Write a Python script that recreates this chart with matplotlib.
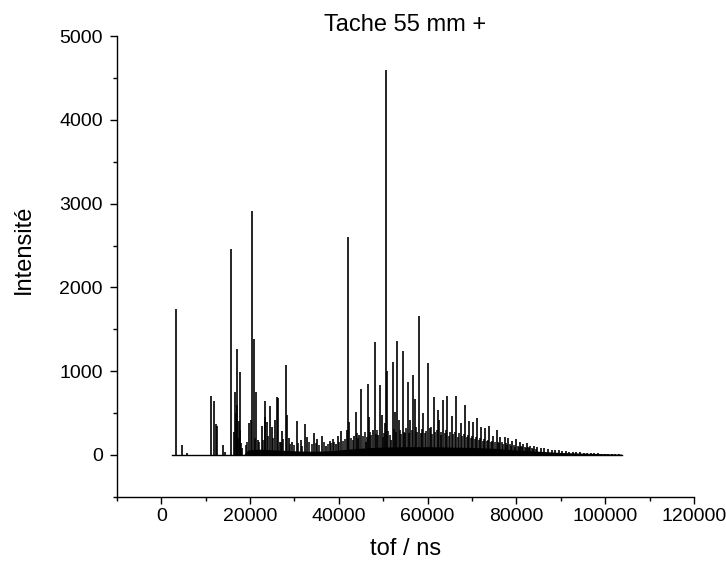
import matplotlib
matplotlib.use("Agg")
import matplotlib.pyplot as plt
from matplotlib.ticker import MultipleLocator

plt.rcParams['font.family'] = ['Liberation Sans', 'DejaVu Sans']

# Peak positions (tof, ns) and heights
peak_tof = [3290, 4640, 5760, 11170, 11850, 12300, 12530, 13950, 14330,
            15680, 16360, 16650, 16800, 16970, 17100, 17260, 17400, 17640,
            17800, 17940, 18200,
            19740, 20190, 20410, 20930, 21380, 21760, 22670, 23270, 23410,
            23860, 24470, 24850, 25660, 25980, 26200, 26650, 27170, 28010,
            28300, 28820, 29490, 30480, 31380, 32420, 32870, 34380, 35120,
            36180, 37080, 37980, 38590, 39270, 39720, 40400, 41750, 42110,
            42330, 43390, 43780, 44590, 44970, 46160, 46550, 46770, 47610,
            48060, 48800, 49250, 49640, 50310, 50670, 50900, 51800, 52110,
            52630, 53080, 53530, 54370, 54880, 55630, 56010, 56750, 57070,
            58040, 58420, 59010, 60130, 60510, 61350, 62250, 62480, 63380,
            64420, 65470, 66370, 67430, 68330, 69370, 70270, 71170, 72070,
            72910, 73880, 74780, 75540, 76350, 77350, 78160, 79060, 79890,
            80730, 81540, 82300, 83110, 83880, 84690, 85500, 86300, 87100,
            87900, 88700, 89500, 90300, 91100, 91900, 92700, 93500, 94300,
            95100, 95900, 96700, 97500, 98300, 99100, 99900, 100700, 101500,
            102300, 103100]
peak_int = [1740, 120, 20, 700, 640, 370, 345, 120, 40,
            2460, 275, 750, 500, 1270, 600, 200, 400, 990,
            300, 140, 80,
            380, 415, 2910, 1390, 750, 180, 345, 450, 640,
            395, 585, 335, 415, 690, 680, 150, 285, 1070,
            475, 200, 155, 405, 180, 370, 215, 260, 190,
            225, 110, 165, 190, 130, 225, 285, 300, 2600,
            395, 225, 510, 235, 785, 150, 845, 450, 300,
            1345, 235, 835, 475, 380, 4590, 1000, 180, 1105,
            510, 1355, 415, 1240, 260, 870, 415, 950, 665,
            1665, 260, 500, 1095, 320, 690, 535, 415, 655,
            700, 465, 700, 380, 595, 405, 390, 440, 335,
            320, 345, 225, 300, 215, 210, 200, 170, 190,
            155, 130, 140, 110, 110, 90, 85, 80, 70,
            65, 60, 55, 50, 45, 40, 38, 35, 30,
            28, 25, 22, 20, 18, 16, 14, 12, 10,
            9, 8]

# Smaller peaks sitting between the main series
minor_tof = [19000, 19300, 21000, 22100, 22900, 24100, 25200, 26900, 27500,
             29000, 29900, 30900, 31800, 33300, 33900, 34800, 35600, 36600,
             37500, 38300, 38900, 40000, 41000, 41300, 42700, 43100, 44100,
             44400, 45400, 45800, 46300, 47100, 47300, 48400, 48600, 49900,
             50100, 51100, 51500, 52400, 52900, 53800, 54100, 54600, 55200,
             55900, 56400, 57300, 57700, 58700, 59300, 59700, 60800, 61000,
             61700, 62000, 62900, 63100, 63800, 64100, 64800, 65100, 65800,
             66100, 66800, 67100, 67800, 68100, 68800, 69100, 69700, 70000,
             70600, 70900, 71500, 71800, 72400, 72700, 73300, 73600, 74200,
             74500, 75100, 75900, 76100, 76700, 77000, 77700, 77900, 78500,
             78800, 79400, 79700, 80300, 80500, 81000, 81300, 81900, 82100,
             82700, 82900, 83500, 83700, 84300]
minor_int = [120, 160, 200, 150, 180, 230, 200, 160, 190,
             130, 120, 140, 110, 150, 130, 140, 120, 150,
             130, 140, 160, 150, 170, 190, 200, 180, 260,
             200, 230, 270, 210, 280, 240, 250, 300, 220,
             260, 290, 240, 310, 270, 300, 250, 280, 320,
             260, 300, 340, 280, 310, 260, 290, 330, 250,
             280, 300, 240, 270, 260, 300, 230, 280, 250,
             270, 220, 260, 230, 250, 210, 240, 200, 230,
             190, 220, 180, 200, 170, 190, 170, 180, 150,
             170, 150, 160, 140, 150, 130, 140, 120, 130,
             110, 120, 100, 110, 95, 105, 90, 95, 85,
             90, 80, 85, 75, 70]

# Dense unresolved background under the peaks (envelope)
band_tof = [18500, 19500, 22000, 26000, 30000, 34000, 38000, 42000, 46000,
            50000, 55000, 60000, 65000, 70000, 75000, 80000, 85000, 90000,
            95000, 100000, 103700]
band_int = [0, 60, 70, 60, 50, 45, 50, 70, 85,
            95, 100, 100, 95, 90, 80, 60, 45, 30,
            22, 15, 10]

start_tof = 2500
end_tof = 103700

fig = plt.figure(figsize=(7.26, 5.64), dpi=100)
ax = fig.add_axes([0.161, 0.119, 0.795, 0.817])

ax.plot([start_tof, end_tof], [0, 0], color='black', lw=1.0)
ax.fill_between(band_tof, 0, band_int, color='black', lw=0)
ax.vlines(minor_tof, 0, minor_int, color='black', lw=1.1)
ax.vlines(peak_tof, 0, peak_int, color='black', lw=1.2)

ax.set_xlim(-10000, 120000)
ax.set_ylim(-500, 5000)
ax.xaxis.set_major_locator(MultipleLocator(20000))
ax.xaxis.set_minor_locator(MultipleLocator(10000))
ax.yaxis.set_major_locator(MultipleLocator(1000))
ax.yaxis.set_minor_locator(MultipleLocator(500))

for s in ['top', 'right']:
    ax.spines[s].set_visible(False)
for s in ['left', 'bottom']:
    ax.spines[s].set_linewidth(1.0)

ax.tick_params(which='major', direction='out', length=5, width=1.0, labelsize=14)
ax.tick_params(which='minor', direction='out', length=3, width=1.0)
ax.tick_params(axis='y', pad=5)
ax.tick_params(axis='x', pad=3)

ax.set_title('Tache 55 mm +', fontsize=17, pad=-3)
ax.set_xlabel('tof / ns', fontsize=17)
ax.set_ylabel('Intensité', fontsize=17)
ax.xaxis.set_label_coords(0.5, -0.09)
ax.yaxis.set_label_coords(-0.142, 0.538)

fig.savefig('out.png', dpi=100)
